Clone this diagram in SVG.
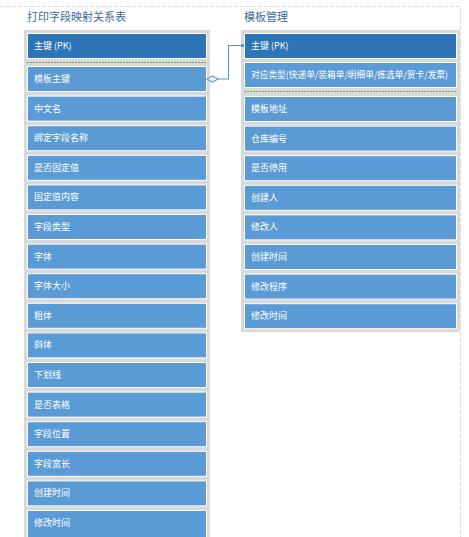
<svg xmlns="http://www.w3.org/2000/svg" width="469" height="537" viewBox="0 0 469 537">
<style>
.title{font-family:"Noto Sans CJK SC","Liberation Sans",sans-serif;font-size:11px;fill:#3a6aa0}
.panel{fill:#d9d9d9}
.hdr{fill:#2e75b6;stroke:#fff;stroke-width:1}
.row{fill:#5b9bd5;stroke:#fff;stroke-width:1}
.t{font-family:"Noto Sans CJK SC","Liberation Sans",sans-serif;font-size:9px;fill:#fff}
.sep{stroke:#70ad47;stroke-width:1;stroke-dasharray:2 1}
.frame{fill:none;stroke:#d9d9d9;stroke-width:1;stroke-dasharray:4 2}
.conn{fill:none;stroke:#5b9bd5;stroke-width:1.2}
</style>
<rect width="469" height="537" fill="#fff"/>
<path class="frame" d="M0 6.5H460.5V537"/>
<g id="table1">
<text class="title" x="27" y="21">打印字段映射关系表</text>
<rect class="panel" x="24" y="30" width="186" height="510"/>
<rect class="hdr" x="27.5" y="33.5" width="179" height="25"/>
<text class="t" x="34" y="49">主键 (PK)</text>
<line class="sep" x1="27" y1="62.5" x2="207" y2="62.5"/>
<g id="l1"><rect class="row" x="27.5" y="66.5" width="179" height="25"/><text class="t" x="34" y="82">模板主键</text></g>
<g id="l2"><rect class="row" x="27.5" y="96.1" width="179" height="25"/><text class="t" x="34" y="111.6">中文名</text></g>
<g id="l3"><rect class="row" x="27.5" y="125.7" width="179" height="25"/><text class="t" x="34" y="141.2">绑定字段名称</text></g>
<g id="l4"><rect class="row" x="27.5" y="155.3" width="179" height="25"/><text class="t" x="34" y="170.8">是否固定值</text></g>
<g id="l5"><rect class="row" x="27.5" y="184.9" width="179" height="25"/><text class="t" x="34" y="200.4">固定值内容</text></g>
<g id="l6"><rect class="row" x="27.5" y="214.5" width="179" height="25"/><text class="t" x="34" y="230">字段类型</text></g>
<g id="l7"><rect class="row" x="27.5" y="244.1" width="179" height="25"/><text class="t" x="34" y="259.6">字体</text></g>
<g id="l8"><rect class="row" x="27.5" y="273.7" width="179" height="25"/><text class="t" x="34" y="289.2">字体大小</text></g>
<g id="l9"><rect class="row" x="27.5" y="303.3" width="179" height="25"/><text class="t" x="34" y="318.8">粗体</text></g>
<g id="l10"><rect class="row" x="27.5" y="332.9" width="179" height="25"/><text class="t" x="34" y="348.4">斜体</text></g>
<g id="l11"><rect class="row" x="27.5" y="362.5" width="179" height="25"/><text class="t" x="34" y="378">下划线</text></g>
<g id="l12"><rect class="row" x="27.5" y="392.1" width="179" height="25"/><text class="t" x="34" y="407.6">是否表格</text></g>
<g id="l13"><rect class="row" x="27.5" y="421.7" width="179" height="25"/><text class="t" x="34" y="437.2">字段位置</text></g>
<g id="l14"><rect class="row" x="27.5" y="451.3" width="179" height="25"/><text class="t" x="34" y="466.8">字段宽长</text></g>
<g id="l15"><rect class="row" x="27.5" y="480.9" width="179" height="25"/><text class="t" x="34" y="496.4">创建时间</text></g>
<g id="l16"><rect class="row" x="27.5" y="510.5" width="179" height="30"/><text class="t" x="34" y="526">修改时间</text></g>
</g>
<g id="table2">
<text class="title" x="244" y="21">模板管理</text>
<rect class="panel" x="241" y="30" width="219" height="302"/>
<rect class="hdr" x="244.5" y="33.5" width="212" height="25"/>
<text class="t" x="251" y="49">主键 (PK)</text>
<g id="r1"><rect class="row" x="244.5" y="62.5" width="212" height="25"/><text class="t" x="251" y="78" textLength="197" lengthAdjust="spacingAndGlyphs">对应类型(快递单/装箱单/明细单/拣选单/贺卡/发票)</text></g>
<line class="sep" x1="244" y1="91.5" x2="457" y2="91.5"/>
<g id="r2"><rect class="row" x="244.5" y="96.5" width="212" height="25"/><text class="t" x="251" y="112">模板地址</text></g>
<g id="r3"><rect class="row" x="244.5" y="126.1" width="212" height="25"/><text class="t" x="251" y="141.6">仓库编号</text></g>
<g id="r4"><rect class="row" x="244.5" y="155.7" width="212" height="25"/><text class="t" x="251" y="171.2">是否停用</text></g>
<g id="r5"><rect class="row" x="244.5" y="185.3" width="212" height="25"/><text class="t" x="251" y="200.8">创建人</text></g>
<g id="r6"><rect class="row" x="244.5" y="214.9" width="212" height="25"/><text class="t" x="251" y="230.4">修改人</text></g>
<g id="r7"><rect class="row" x="244.5" y="244.5" width="212" height="25"/><text class="t" x="251" y="260">创建时间</text></g>
<g id="r8"><rect class="row" x="244.5" y="274.1" width="212" height="25"/><text class="t" x="251" y="289.6">修改程序</text></g>
<g id="r9"><rect class="row" x="244.5" y="303.7" width="212" height="25"/><text class="t" x="251" y="319.2">修改时间</text></g>
</g>
<g id="connectors">
<path class="conn" d="M218 79H228.5V45.5H242"/>
<path d="M207 79L212.5 76L218 79L212.5 82Z" fill="#fff" stroke="#5b9bd5" stroke-width="1.2"/>
<rect x="241" y="44" width="3" height="3" fill="#5b9bd5"/>
</g>
</svg>
